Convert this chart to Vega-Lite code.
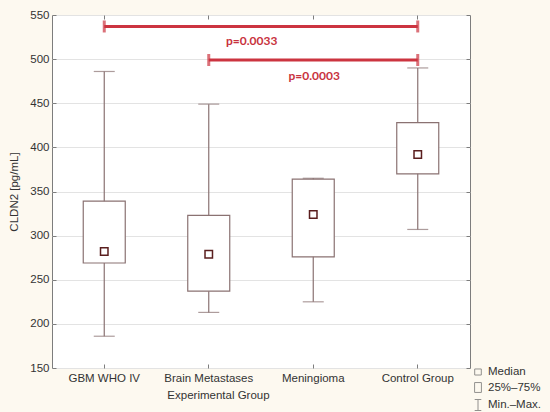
{
  "$schema": "https://vega.github.io/schema/vega-lite/v6.json",
  "width": 418,
  "height": 353,
  "autosize": {"type": "none"},
  "padding": {"left": 52, "top": 15, "right": 80, "bottom": 44},
  "background": "#fdf9f0",
  "config": {
    "view": {"fill": "white", "stroke": "#7d7d7d", "strokeWidth": 1},
    "font": "Liberation Sans",
    "axis": {
      "labelFont": "Liberation Sans", "titleFont": "Liberation Sans",
      "labelColor": "#333333", "titleColor": "#333333",
      "labelFontSize": 11.5, "titleFontSize": 11.5, "titleFontWeight": "normal",
      "domain": false, "tickColor": "#7d7d7d", "tickSize": -4
    }
  },
  "datasets": {
    "groups": [
      {"group": "GBM WHO IV", "min": 186, "q1": 269, "median": 282, "q3": 339, "max": 486},
      {"group": "Brain Metastases", "min": 213, "q1": 237, "median": 279, "q3": 323, "max": 449},
      {"group": "Meningioma", "min": 225, "q1": 276, "median": 324, "q3": 364, "max": 365},
      {"group": "Control Group", "min": 307, "q1": 370, "median": 392, "q3": 428, "max": 490}
    ],
    "brackets": [
      {"start": "GBM WHO IV", "end": "Control Group", "y": 537},
      {"start": "Brain Metastases", "end": "Control Group", "y": 499}
    ],
    "caps": [
      {"group": "GBM WHO IV", "y": 537},
      {"group": "Control Group", "y": 537},
      {"group": "Brain Metastases", "y": 499},
      {"group": "Control Group", "y": 499}
    ],
    "labels": [
      {"group": "Brain Metastases", "y": 521, "label": "p=0.0033"},
      {"group": "Meningioma", "y": 481, "label": "p=0.0003"}
    ],
    "legend": [
      {"item": "Median"},
      {"item": "25%–75%"},
      {"item": "Min.–Max."}
    ]
  },
  "resolve": {"axis": {"x": "independent", "y": "independent"}},
  "layer": [
    {
      "data": {"name": "groups"},
      "mark": {"type": "rule", "color": "#8a7272", "strokeWidth": 1.2},
      "encoding": {
        "x": {"field": "group", "type": "nominal",
              "scale": {"type": "band", "domain": ["GBM WHO IV", "Brain Metastases", "Meningioma", "Control Group"], "paddingInner": 0, "paddingOuter": 0},
              "axis": {"orient": "bottom", "title": "Experimental Group", "labelAngle": 0, "labelPadding": 8, "titleX": 166, "titlePadding": 6}},
        "y": {"field": "min", "type": "quantitative",
              "scale": {"domain": [150, 550], "nice": false, "zero": false},
              "axis": {"orient": "left", "title": "CLDN2 [pg/mL]", "values": [150, 200, 250, 300, 350, 400, 450, 500, 550], "grid": true, "gridColor": "#e3e3e3", "labelPadding": 7, "titlePadding": 10}},
        "y2": {"field": "max"}
      }
    },
    {
      "data": {"name": "groups"},
      "mark": {"type": "bar", "fill": "white", "stroke": "#8a7272", "strokeWidth": 1.2, "size": 42},
      "encoding": {
        "x": {"field": "group", "type": "nominal", "axis": {"orient": "top", "labels": false, "title": null}},
        "y": {"field": "q1", "type": "quantitative", "axis": {"orient": "right", "labels": false, "title": null, "values": [150, 200, 250, 300, 350, 400, 450, 500, 550], "grid": false}},
        "y2": {"field": "q3"}
      }
    },
    {
      "data": {"name": "groups"},
      "mark": {"type": "tick", "color": "#8a7272", "thickness": 1.2, "size": 21},
      "encoding": {
        "x": {"field": "group", "type": "nominal", "axis": null},
        "y": {"field": "min", "type": "quantitative", "axis": null}
      }
    },
    {
      "data": {"name": "groups"},
      "mark": {"type": "tick", "color": "#8a7272", "thickness": 1.2, "size": 21},
      "encoding": {
        "x": {"field": "group", "type": "nominal", "axis": null},
        "y": {"field": "max", "type": "quantitative", "axis": null}
      }
    },
    {
      "data": {"name": "groups"},
      "mark": {"type": "point", "shape": "square", "filled": false, "fill": "white", "fillOpacity": 1, "stroke": "#5a1e1e", "strokeWidth": 1.5, "size": 56, "opacity": 1},
      "encoding": {
        "x": {"field": "group", "type": "nominal", "axis": null},
        "y": {"field": "median", "type": "quantitative", "axis": null}
      }
    },
    {
      "data": {"name": "brackets"},
      "mark": {"type": "rule", "color": "#cc3440", "strokeWidth": 3},
      "encoding": {
        "x": {"field": "start", "type": "nominal", "axis": null},
        "x2": {"field": "end"},
        "y": {"field": "y", "type": "quantitative", "axis": null}
      }
    },
    {
      "data": {"name": "caps"},
      "mark": {"type": "tick", "orient": "vertical", "color": "#cc3440", "thickness": 3, "size": 12},
      "encoding": {
        "x": {"field": "group", "type": "nominal", "axis": null},
        "y": {"field": "y", "type": "quantitative", "axis": null}
      }
    },
    {
      "data": {"name": "labels"},
      "transform": [{"filter": "datum.label == 'p=0.0033'"}],
      "mark": {"type": "text", "color": "#c8323d", "font": "Lato", "fontWeight": "bold", "fontSize": 12, "dx": 43},
      "encoding": {
        "x": {"field": "group", "type": "nominal", "axis": null},
        "y": {"field": "y", "type": "quantitative", "axis": null},
        "text": {"field": "label"}
      }
    },
    {
      "data": {"name": "labels"},
      "transform": [{"filter": "datum.label == 'p=0.0003'"}],
      "mark": {"type": "text", "color": "#c8323d", "font": "Lato", "fontWeight": "bold", "fontSize": 12, "dx": 1},
      "encoding": {
        "x": {"field": "group", "type": "nominal", "axis": null},
        "y": {"field": "y", "type": "quantitative", "axis": null},
        "text": {"field": "label"}
      }
    },
    {
      "data": {"name": "legend"},
      "mark": {"type": "point", "filled": false, "clip": true, "color": "#666666"},
      "encoding": {
        "x": {"datum": "GBM WHO IV", "type": "nominal", "axis": null},
        "y": {"datum": 100, "type": "quantitative", "axis": null},
        "shape": {"field": "item", "type": "nominal",
                  "scale": {"domain": ["Median", "25%–75%", "Min.–Max."],
                            "range": ["M-0.6,-0.55H0.6V0.55H-0.6Z", "M-0.62,-0.9H0.62V0.9H-0.62Z", "M-0.6,-1H0.6M0,-1V1M-0.6,1H0.6"]},
                  "legend": {"orient": "none", "legendX": 420, "legendY": 351, "title": null,
                             "symbolSize": 121, "symbolStrokeColor": "#666666", "symbolFillColor": "white", "symbolStrokeWidth": 1,
                             "labelFont": "Liberation Sans", "labelFontSize": 11.5, "labelColor": "#333333", "labelOffset": 4, "rowPadding": 2.5}}
      }
    }
  ]
}
